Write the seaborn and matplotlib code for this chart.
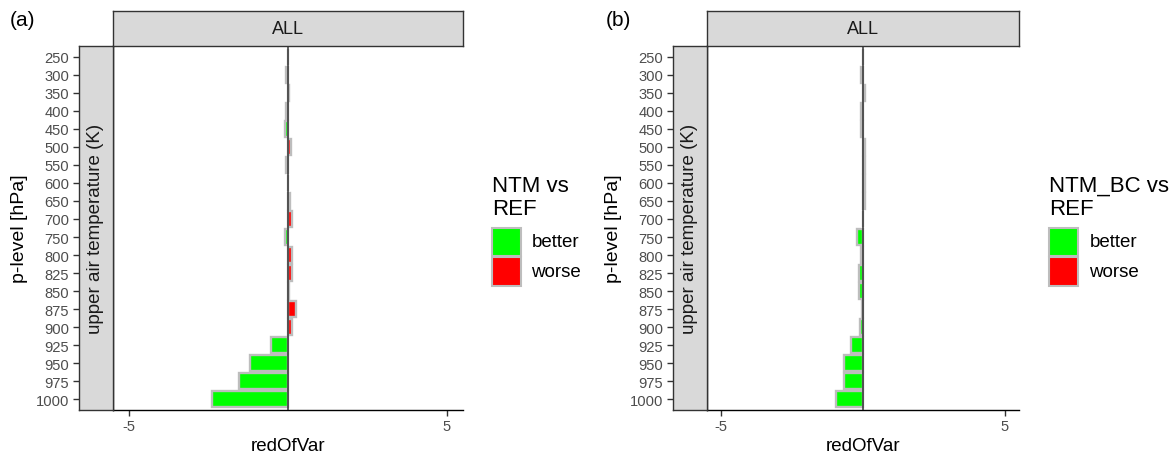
import matplotlib
matplotlib.use("Agg")
import matplotlib.pyplot as plt
import numpy as np
import pandas as pd
import seaborn as sns
from matplotlib.patches import Rectangle

# ---------------- data ----------------
levels = ["250", "300", "350", "400", "450", "500", "550", "600", "650", "700",
          "750", "800", "825", "850", "875", "900", "925", "950", "975", "1000"]
ntm_vs_ref = [0.0, -0.05, 0.05, -0.05, -0.07, 0.1, -0.05, 0.02, 0.07, 0.13,
              -0.07, 0.15, 0.12, 0.05, 0.26, 0.12, -0.53, -1.18, -1.52, -2.38]
ntm_bc_vs_ref = [0.02, -0.07, 0.06, -0.08, -0.08, 0.07, 0.06, 0.07, 0.07, 0.0,
                 -0.22, -0.07, -0.14, -0.12, -0.02, -0.09, -0.43, -0.66, -0.68, -0.96]
legend_titles = ["NTM vs\nREF", "NTM_BC vs\nREF"]
panel_tags = ["(a)", "(b)"]
classes = ["better", "worse"]
x_ticks = [-5, 5]
strip_top = "ALL"
strip_left = "upper air temperature (K)"

palette = {"better": "#00FF00", "worse": "#FF0000"}
EDGE = "#BDBDBD"

sns.set_theme(style="white")
plt.rcParams["font.family"] = ["Liberation Sans", "DejaVu Sans"]

W, H = 1175, 460
fig = plt.figure(figsize=(W / 100, H / 100), dpi=100)


def rect(l, t, r, b):
    return [l / W, 1 - b / H, (r - l) / W, (b - t) / H]


def fx(x):
    return x / W


def fy(y):
    return 1 - y / H


panels = [
    dict(main=(112.7, 47, 462.7, 411), lstrip=(79, 47, 112.7, 411), tstrip=(112.7, 12, 462.7, 47),
         tag_x=10, ylab_x=20, leg_x=491.7, lab_x=531.5, key_w=29),
    dict(main=(706.7, 47, 1019, 411), lstrip=(673, 47, 706.7, 411), tstrip=(706.7, 12, 1019, 47),
         tag_x=606, ylab_x=614, leg_x=1049.3, lab_x=1089.3, key_w=28.5),
]

series = [ntm_vs_ref, ntm_bc_vs_ref]
YLIM = (len(levels) - 1 + 0.6, -0.6)

for i, p in enumerate(panels):
    vals = series[i]
    df = pd.DataFrame({"level": levels, "value": vals})
    df["cls"] = np.where(df["value"] > 0, "worse", "better")

    ax = fig.add_axes(rect(*p["main"]))
    sns.barplot(data=df, x="value", y="level", hue="cls", order=levels,
                hue_order=classes, palette=palette, dodge=False, width=0.9,
                edgecolor=EDGE, linewidth=1.7, orient="h", legend=False, ax=ax,
                saturation=1)
    ax.axvline(0, color="#333333", lw=1.1, zorder=5)
    ax.set_xlim(-5.5, 5.5)
    ax.set_ylim(*YLIM)
    ax.set_xticks(x_ticks)
    ax.set_xticklabels([str(t) for t in x_ticks])
    ax.set_yticks([])
    ax.set_ylabel("")
    ax.set_xlabel("redOfVar", fontsize=13.5, color="#000000", labelpad=3)
    ax.tick_params(axis="x", length=4, width=1.0, color="#333333", pad=2.2,
                   labelsize=10.6, labelcolor="#4D4D4D", bottom=True)
    for s in ["top", "right"]:
        ax.spines[s].set_visible(False)
    for s in ["left", "bottom"]:
        ax.spines[s].set_color("#000000")
        ax.spines[s].set_linewidth(1.0)
    ax.set_facecolor("white")

    # left strip with y ticks
    ls = fig.add_axes(rect(*p["lstrip"]))
    ls.set_facecolor("#D9D9D9")
    ls.set_ylim(*YLIM)
    ls.set_xlim(0, 1)
    ls.set_xticks([])
    ls.set_yticks(range(len(levels)))
    ls.set_yticklabels(levels)
    ls.tick_params(axis="y", length=4, width=1.0, color="#333333", pad=3,
                   labelsize=10.6, labelcolor="#4D4D4D", left=True)
    for s in ls.spines.values():
        s.set_color("#333333")
        s.set_linewidth(1.0)
    ls.text(0.5, 0.5, strip_left, rotation=90, ha="center", va="center",
            fontsize=13.5, color="#1A1A1A", transform=ls.transAxes)

    # top strip
    ts = fig.add_axes(rect(*p["tstrip"]))
    ts.set_facecolor("#D9D9D9")
    ts.set_xticks([])
    ts.set_yticks([])
    for s in ts.spines.values():
        s.set_color("#333333")
        s.set_linewidth(1.0)
    ts.text(0.5, 0.5, strip_top, ha="center", va="center", fontsize=13,
            color="#1A1A1A", transform=ts.transAxes)

    # tag and y label
    fig.text(fx(p["tag_x"]), fy(11), panel_tags[i], ha="left", va="top",
             fontsize=15, color="#000000")
    fig.text(fx(p["ylab_x"]), fy(229), "p-level [hPa]", rotation=90,
             ha="center", va="center", fontsize=14, color="#000000")

    # legend
    fig.text(fx(p["leg_x"]), fy(176), legend_titles[i], ha="left", va="top",
             fontsize=16, color="#000000", linespacing=1.13)
    key_tops = [228.5, 258]
    for cls, kt in zip(classes, key_tops):
        kw, kh = p["key_w"], 28.5
        fig.add_artist(Rectangle((fx(p["leg_x"]), fy(kt + kh)), kw / W, kh / H,
                                 transform=fig.transFigure, facecolor=palette[cls],
                                 edgecolor=EDGE, linewidth=1.5))
        fig.text(fx(p["lab_x"]), fy(kt + kh / 2), cls, ha="left", va="center",
                 fontsize=13.5, color="#000000")

fig.savefig("out.png", dpi=100, facecolor="white")
